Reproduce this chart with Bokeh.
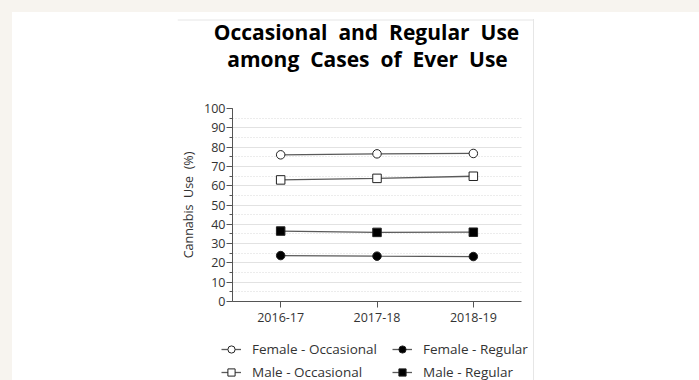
from bokeh.plotting import figure
from bokeh.models import (FactorRange, Range1d, Legend, LegendItem, SingleIntervalTicker, Spacer, Span)
from bokeh.layouts import row, column
from bokeh.core.properties import value
from bokeh.embed import file_html
from bokeh.resources import INLINE

years = ["2016-17", "2017-18", "2018-19"]
female_occasional = [76.0, 76.5, 76.7]
female_regular = [23.8, 23.5, 23.3]
male_occasional = [63.0, 63.8, 64.9]
male_regular = [36.5, 35.8, 35.9]
title_lines = ["Occasional\u00a0 and\u00a0 Regular\u00a0 Use", "among\u00a0 Cases\u00a0 of\u00a0 Ever\u00a0 Use"]
y_label = "Cannabis\u00a0 Use\u00a0 (%)"

FONT = "Open Sans"
BEIGE = "#f7f4ef"
FRAME_LINE = "#e6e6e6"
PANEL_W = 356
TITLE_H = 78

series = [
    ("Female - Occasional", female_occasional, "circle", "white"),
    ("Female - Regular", female_regular, "circle", "black"),
    ("Male - Occasional", male_occasional, "square", "white"),
    ("Male - Regular", male_regular, "square", "black"),
]


def blank(fig):
    fig.axis.visible = False
    fig.grid.visible = False
    fig.outline_line_color = None
    fig.background_fill_color = None
    fig.border_fill_color = None
    fig.min_border = 0
    fig.min_border_left = 0
    fig.min_border_right = 0
    fig.min_border_top = 0
    fig.min_border_bottom = 0
    fig.frame_align = False


# ---- title figure (also carries the panel's top border line) ----
pt = figure(width=PANEL_W, height=TITLE_H, x_range=Range1d(0, PANEL_W), y_range=Range1d(0, TITLE_H),
            output_backend="svg", toolbar_location=None)
blank(pt)
pt.add_layout(Span(location=TITLE_H - 7.5, dimension="width", line_color=FRAME_LINE, line_width=1))
pt.text(x=[189, 190], y=[58.5, 32.0], text=title_lines, text_align="center",
        text_baseline="alphabetic", text_font=value(FONT), text_font_style="bold",
        text_font_size="21px", text_color="#000000")

# ---- main plot ----
p = figure(width=PANEL_W, height=250, x_range=FactorRange(*years), y_range=Range1d(0, 100),
           output_backend="svg", toolbar_location=None,
           min_border_left=55, min_border_right=12, min_border_top=18, min_border_bottom=39)
p.frame_align = False
p.background_fill_color = None
p.border_fill_color = None
p.outline_line_color = None

p.xgrid.grid_line_color = None
p.ygrid.grid_line_color = "#e2e2e2"
p.ygrid.minor_grid_line_color = "#d9d9d9"
p.ygrid.minor_grid_line_dash = "1 2"
p.yaxis.ticker = SingleIntervalTicker(interval=10, num_minor_ticks=2)

for ax in (p.xaxis, p.yaxis):
    ax.axis_line_color = "#555555"
    ax.major_tick_line_color = "#555555"
    ax.minor_tick_line_color = "#555555"
    ax.major_label_text_font = FONT
    ax.major_label_text_font_size = "12.5px"
    ax.major_label_text_color = "#333333"
p.yaxis.major_tick_in = 0
p.yaxis.major_tick_out = 6
p.yaxis.minor_tick_in = 0
p.yaxis.minor_tick_out = 3
p.yaxis.major_label_standoff = 1
p.yaxis.axis_label = y_label
p.yaxis.axis_label_text_font = FONT
p.yaxis.axis_label_text_font_style = "normal"
p.yaxis.axis_label_text_font_size = "12.5px"
p.yaxis.axis_label_text_color = "#333333"
p.yaxis.axis_label_standoff = 4
p.xaxis.major_tick_in = 0
p.xaxis.major_tick_out = 6
p.xaxis.major_label_standoff = 5

for name, vals, marker, fill in series:
    p.line(years, vals, line_color="#5a5a5a", line_width=1.3)
    p.scatter(years, vals, marker=marker, size=8.5, fill_color=fill,
              line_color="#222222", line_width=1)

# ---- legend figure ----
pl = figure(width=PANEL_W, height=40, x_range=Range1d(0, 1), y_range=Range1d(0, 1),
            output_backend="svg", toolbar_location=None)
blank(pl)
legend_items = []
for name, vals, marker, fill in series:
    # off-screen stand-ins so the legend can draw each series' swatch
    ln = pl.line(x=[-5, -4], y=[-5, -5], line_color="#5a5a5a", line_width=1.3)
    sc = pl.scatter(x=[-5], y=[-5], marker=marker, size=7, fill_color=fill,
                    line_color="#222222", line_width=1)
    legend_items.append(LegendItem(label=name, renderers=[ln, sc]))

common = dict(padding=0, margin=0, spacing=5, label_standoff=11,
              glyph_width=20, glyph_height=18, label_height=18,
              label_text_font=FONT, label_text_font_size="13.5px", label_text_color="#333333",
              border_line_color=None, background_fill_alpha=0)
pl.add_layout(Legend(items=[legend_items[0], legend_items[2]], location=(44, -1), **common), "center")
pl.add_layout(Legend(items=[legend_items[1], legend_items[3]], location=(215, -1), **common), "center")

# ---- page assembly ----
right_edge = column(
    Spacer(width=1, height=7),
    Spacer(width=1, height=361, styles={"background-color": FRAME_LINE}),
)
panel = row(column(pt, p, pl), right_edge)
page = column(
    Spacer(width=699, height=12, styles={"background-color": BEIGE}),
    row(
        Spacer(width=12, height=368, styles={"background-color": BEIGE}),
        Spacer(width=165, height=368),
        panel,
        Spacer(width=165, height=368),
    ),
)

open("out.html", "w").write(file_html(page, INLINE))
